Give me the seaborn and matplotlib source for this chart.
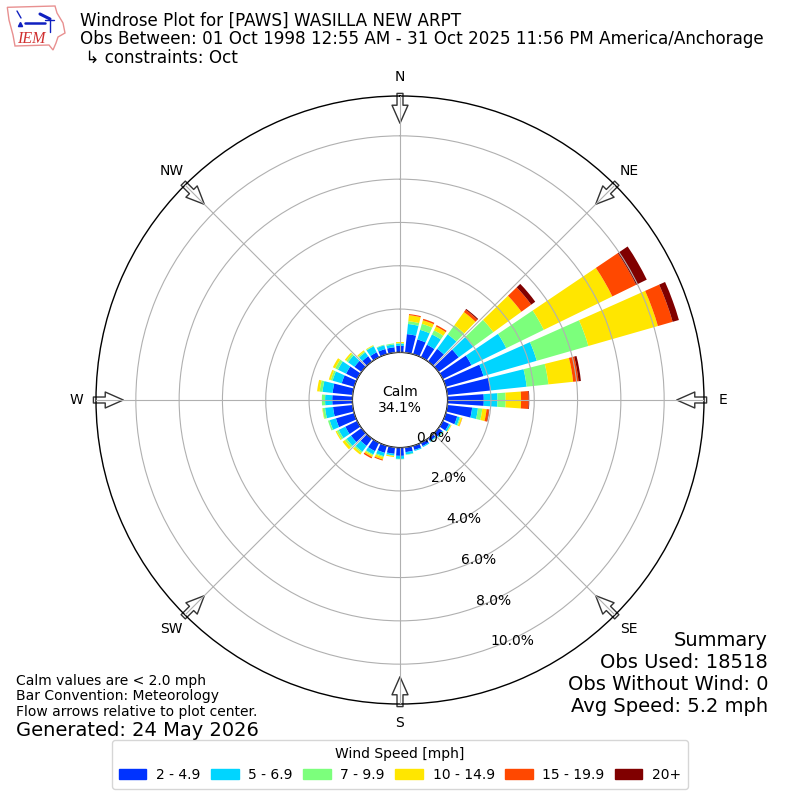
"""
Windrose for PAWS, October observations, redrawn with a stacked seaborn histogram on a polar axes.
"""

import numpy as np
import pandas as pd
import matplotlib
matplotlib.use('Agg')
import matplotlib.pyplot as plt
import seaborn as sns
from matplotlib.patches import Polygon, Rectangle

# ============================================================
# Data (percent of observations per 10 degree direction bin)
# ============================================================
DIRECTIONS = list(range(0, 360, 10))
SPEED_LABELS = ['2 - 4.9', '5 - 6.9', '7 - 9.9', '10 - 14.9', '15 - 19.9', '20+']
SPEED_COLORS = ['#0033ff', '#00d5ff', '#7cff7c', '#ffe600', '#ff4800', '#800000']

SPEED_1 = [.30, .86, .71, .64, .72, 1.15, 1.47, 1.81, 2.00, 1.67, 1.15, .55,
           .32, .22, .15, .17, .20, .22, .38, .30, .34, .43, .42, .60,
           .61, .88, .91, .93, .93, .60, .57, .40, .30, .25, .25, .25]
SPEED_2 = [.10, .47, .46, .53, .83, .83, 1.79, 2.56, 1.68, .63, .27, .12,
           .08, .05, .04, .05, .05, .11, .14, .08, .16, .17, .33, .25,
           .34, .30, .37, .33, .47, .44, .42, .37, .22, .31, .18, .13]
SPEED_3 = [.03, .13, .29, .21, .52, 1.15, 1.93, 2.48, 1.01, .38, .20, .05,
           .02, .02, .01, .00, .00, .02, .02, .02, .05, .05, .07, .10,
           .10, .08, .11, .15, .13, .09, .14, .10, .06, .03, .03, .05]
SPEED_4 = [.05, .28, .17, .20, .75, 1.60, 3.52, 3.34, 1.15, .71, .20, .07,
           .03, .01, .00, .00, .00, .00, .00, .05, .11, .08, .10, .13,
           .06, .00, .02, .00, .12, .09, .12, .08, .06, .03, .00, .00]
SPEED_5 = [.00, .05, .07, .07, .13, .56, 1.22, .71, .25, .35, .11, .01,
           .00, .00, .00, .00, .00, .00, .00, .00, .05, .07, .00, .00,
           .00, .00, .00, .00, .00, .00, .00, .00, .00, .00, .00, .00]
SPEED_6 = [.00, .00, .00, .00, .05, .23, .55, .30, .11, .03, .02, .00,
           .00, .00, .00, .00, .00, .00, .00, .00, .00, .00, .00, .00,
           .00, .00, .00, .00, .00, .00, .00, .00, .00, .00, .00, .00]

RADIAL_TICKS = [0, 2, 4, 6, 8, 10]
COMPASS = ['N', 'NE', 'E', 'SE', 'S', 'SW', 'W', 'NW']

TITLE = ('Windrose Plot for [PAWS] WASILLA NEW ARPT\n'
         'Obs Between: 01 Oct 1998 12:55 AM - 31 Oct 2025 11:56 PM America/Anchorage\n'
         ' \u21b3 constraints: Oct')
NOTES = 'Calm values are < 2.0 mph\nBar Convention: Meteorology\nFlow arrows relative to plot center.'
GENERATED = 'Generated: 24 May 2026'
SUMMARY = 'Summary\nObs Used: 18518\nObs Without Wind: 0\nAvg Speed: 5.2 mph'
CALM = 'Calm\n34.1%'

# ============================================================
# Build long table for seaborn
# ============================================================
rows = []
for label, values in zip(SPEED_LABELS, [SPEED_1, SPEED_2, SPEED_3, SPEED_4, SPEED_5, SPEED_6]):
    for deg, val in zip(DIRECTIONS, values):
        rows.append({'theta': np.deg2rad(deg), 'speed': label, 'pct': val})
df = pd.DataFrame(rows)

sns.set_style('white', rc={'text.color': 'black', 'xtick.color': 'black', 'ytick.color': 'black',
                           'axes.labelcolor': 'black'})
plt.rcParams['font.family'] = ['DejaVu Sans']

fig = plt.figure(figsize=(8, 8), dpi=100)
ax = fig.add_axes([96 / 800, 96 / 800, 608 / 800, 608 / 800], projection='polar')
ax.set_theta_zero_location('N')
ax.set_theta_direction(-1)

# ============================================================
# Stacked bars, 8 degrees wide in 10 degree bins
# histplot stacks the first hue on top, so the order is reversed
# ============================================================
sns.histplot(data=df, x='theta', weights='pct', hue='speed', hue_order=SPEED_LABELS[::-1],
             palette=dict(zip(SPEED_LABELS, SPEED_COLORS)), multiple='stack',
             bins=36, binrange=(np.deg2rad(-5), np.deg2rad(355)), shrink=0.8, alpha=1,
             edgecolor='none', linewidth=0, legend=False, ax=ax)

ax.set_xlabel('')
ax.set_ylabel('')
ax.set_xlim(0, 2 * np.pi)
ax.set_ylim(0, 11.84)
ax.set_rorigin(-2.2)

# ============================================================
# Grid and labels
# ============================================================
ax.set_axisbelow(False)
ax.grid(True, color='#b0b0b0', linewidth=0.8)
ax.set_thetagrids(np.arange(0, 360, 45), COMPASS, fontsize=10)
ax.tick_params(axis='x', pad=3.5)
ax.set_rgrids(RADIAL_TICKS, [f'{t:.1f}%' for t in RADIAL_TICKS], fontsize=10)
ax.set_rlabel_position(160)
for spine in ax.spines.values():
    spine.set_edgecolor('black')
    spine.set_linewidth(1.0)

# Flow arrows just inside the outer ring, grid lines show through them
for deg in np.arange(0, 360, 45):
    ax.annotate('', xy=(np.deg2rad(deg), 10.58), xytext=(np.deg2rad(deg), 11.96),
                annotation_clip=False, zorder=2,
                arrowprops=dict(facecolor='white', edgecolor='#333333', linewidth=1.0,
                                width=4.3, headwidth=11.5, headlength=13, shrink=0))

ax.text(0.5, 0.5, CALM, transform=ax.transAxes, ha='center', va='center', fontsize=10,
        linespacing=1.15, zorder=6)

# ============================================================
# Figure text
# ============================================================
fig.text(80 / 800, 1 - 12 / 800, TITLE, fontsize=12.04, ha='left', va='top', linespacing=1.03)
fig.text(16 / 800, 1 - 719 / 800, NOTES, fontsize=10, ha='left', va='bottom', linespacing=1.15)
fig.text(16 / 800, 1 - 740 / 800, GENERATED, fontsize=14, ha='left', va='bottom')
fig.text(768 / 800, 1 - 716 / 800, SUMMARY, fontsize=14, ha='right', va='bottom', linespacing=1.19)

# ============================================================
# Legend
# ============================================================
handles = [Rectangle((0, 0), 1, 1, color=c) for c in SPEED_COLORS]
fig.legend(handles, SPEED_LABELS, title='Wind Speed [mph]', ncol=6, fontsize=10,
           title_fontsize=10, loc='lower center', bbox_to_anchor=(0.5, 0.01375),
           frameon=True, framealpha=0.8, edgecolor='#cccccc', fancybox=True,
           columnspacing=0.73, handletextpad=0.7, borderaxespad=0, borderpad=0.5)

# ============================================================
# IEM logo (Iowa outline, wind barb, name)
# ============================================================
logo = fig.add_axes([0, 1 - 60 / 800, 75 / 800, 60 / 800])
logo.set_xlim(0, 75)
logo.set_ylim(60, 0)
logo.axis('off')
logo.add_patch(Polygon([(7.3, 7.3), (55, 6), (57, 13), (63, 23), (65, 33), (58, 37), (56, 43),
                        (53, 50), (49, 45), (15, 46), (13, 35), (9, 20)],
                       closed=True, facecolor='white', edgecolor='#e89090', linewidth=1))
logo.plot([25, 45], [23.3, 23.3], color='#1020c0', lw=1.8)
logo.plot([17, 21], [11, 18], color='#1020c0', lw=1.0)
logo.plot([40, 50], [14, 19], color='#1020c0', lw=2.2)
logo.plot([45, 54], [19.5, 19.5], color='#1020c0', lw=1.0)
logo.plot([50, 50], [20, 32], color='#1020c0', lw=1.0)
logo.plot([20], [24], marker='^', ms=3, color='#1020c0')
logo.text(17, 43, 'IEM', color='#d03030', family='Liberation Serif', style='italic', fontsize=11.5)

fig.savefig('out.png', dpi=100)
